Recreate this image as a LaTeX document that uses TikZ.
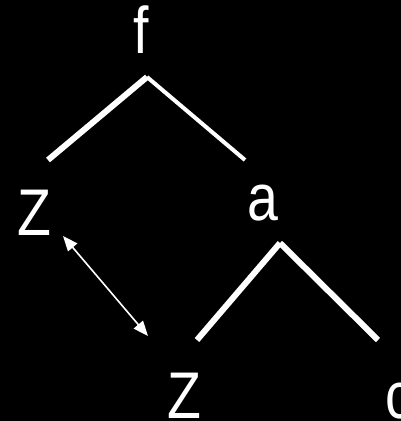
\documentclass[tikz,border=0pt]{standalone}
\usepackage{fontspec}
\setmainfont[FakeStretch=0.84]{Liberation Sans}
\usepackage{tikz}
\usetikzlibrary{arrows.meta,positioning}

\begin{document}
\begin{tikzpicture}[
    x=1pt, y=-1pt,
    lbl/.style={text=white, font=\fontsize{66}{66}\selectfont, inner sep=0pt, anchor=base},
    branch/.style={white, line width=5pt},
    link/.style={{Triangle[length=15pt,width=12pt]}-{Triangle[length=15pt,width=12pt]}, white, line width=1.6pt}
]
% Background
\fill[black] (0,0) rectangle (401,421);
\useasboundingbox (0,0) rectangle (401,421);

% Labels
\node[lbl] (f) at (141,53) {f};
\node[lbl] (zl) at (34,235) {Z};
\node[lbl] (a) at (263,220) {a};
\node[lbl] (zb) at (184,418) {Z};
\node[lbl] (c) at (399,418) {c};

% Branch ends
\coordinate (ftop) at (147,77);
\coordinate (fl) at (48,160);
\coordinate (fr) at (245,160);
\coordinate (atop) at (280,243);
\coordinate (al) at (197,340);
\coordinate (ar) at (378,340);

% Branches
\draw[branch, line width=6pt] (fl) -- (ftop);
\draw[branch, line width=4pt] (ftop) -- (fr);
\draw[branch, line width=6pt] (al) -- (atop);
\draw[branch, line width=6pt] (atop) -- (ar);

% Link between the two Z
\coordinate (zl end) at (63,236);
\coordinate (zb end) at (148,336);
\draw[link] (zl end) -- (zb end);
\end{tikzpicture}
\end{document}
